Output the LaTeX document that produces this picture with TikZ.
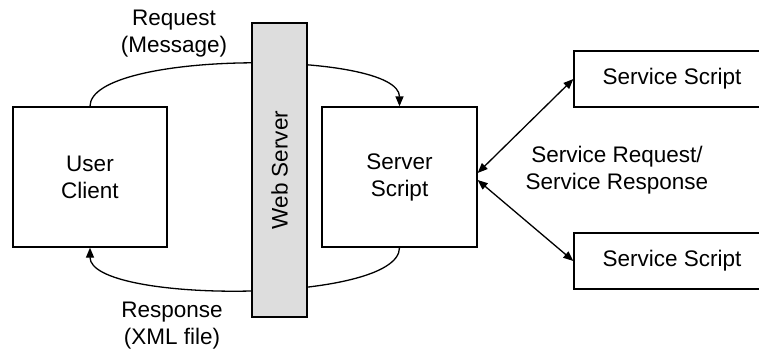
\documentclass[tikz,border=0pt]{standalone}
\usepackage{fontspec}
\setmainfont{Liberation Sans}
\usetikzlibrary{arrows.meta}
\definecolor{wsgray}{RGB}{221,221,221}
\tikzset{
  box/.style={draw, line width=1.3pt, inner sep=0pt, align=center, font=\fontsize{22.5}{27}\selectfont},
  lbl/.style={inner sep=0pt, align=center, font=\fontsize{22.5}{27}\selectfont},
  conn/.style={line width=1.3pt, -{Triangle[length=10pt,width=8pt]}},
  dconn/.style={line width=1.3pt, {Triangle[length=10pt,width=8pt]}-{Triangle[length=10pt,width=8pt]}}
}
\begin{document}
\begin{tikzpicture}[x=1pt,y=-1pt]
\useasboundingbox (0,0) rectangle (759,353);
\clip (0,0) rectangle (759,353);
\node[box, minimum width=154pt, minimum height=140pt] (uc) at (90,177) {User\\Client};
\node[box, minimum width=155pt, minimum height=140pt] (ss) at (399.5,177) {Server\\Script};
\node[box, minimum width=196pt, minimum height=56pt] (svc1) at (672,79) {Service Script};
\node[box, minimum width=196pt, minimum height=56pt] (svc2) at (672,261) {Service Script};
\draw[conn] (uc.north) .. controls (90,50) and (399.5,50) .. (ss.north);
\draw[conn] (ss.south) .. controls (399.5,304) and (90,304) .. (uc.south);
\node[box, fill=wsgray, rotate=90, minimum width=294pt, minimum height=55pt] (ws) at (279.5,170) {Web Server};
\draw[dconn] ([yshift=4pt]ss.east) -- (svc1.west);
\draw[dconn] ([yshift=-3pt]ss.east) -- (svc2.west);
\node[lbl] (req) at (174,34) {Request\\(Message)};
\node[lbl] (resp) at (172,326) {Response\\(XML file)};
\node[lbl] (svcl) at (617,170) {Service Request/\\Service Response};
\end{tikzpicture}
\end{document}
